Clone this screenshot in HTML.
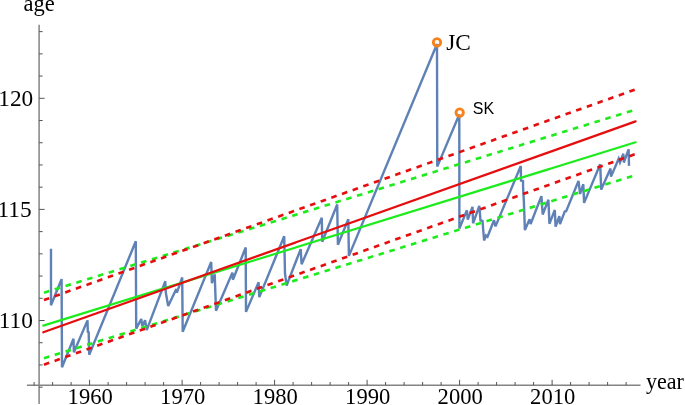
<!DOCTYPE html><html><head><meta charset="utf-8"><style>html,body{margin:0;padding:0;background:#fff;width:685px;height:405px;overflow:hidden}svg{display:block}</style></head><body>
<svg width="685" height="405" viewBox="0 0 685 405">
<defs><filter id="b" x="-5%" y="-5%" width="110%" height="110%"><feGaussianBlur stdDeviation="0.3"/></filter></defs><g filter="url(#b)">
<g stroke="#838383" stroke-width="1.5" fill="none">
<line x1="39.1" y1="24.7" x2="39.1" y2="404"/>
<line x1="27" y1="385.3" x2="640.5" y2="385.3"/>
</g>
<path d="M34.10 385.3V382.00M52.60 385.3V382.00M71.10 385.3V382.00M89.60 385.3V379.80M108.10 385.3V382.00M126.60 385.3V382.00M145.10 385.3V382.00M163.60 385.3V382.00M182.10 385.3V379.80M200.60 385.3V382.00M219.10 385.3V382.00M237.60 385.3V382.00M256.10 385.3V382.00M274.60 385.3V379.80M293.10 385.3V382.00M311.60 385.3V382.00M330.10 385.3V382.00M348.60 385.3V382.00M367.10 385.3V379.80M385.60 385.3V382.00M404.10 385.3V382.00M422.60 385.3V382.00M441.10 385.3V382.00M459.60 385.3V379.80M478.10 385.3V382.00M496.60 385.3V382.00M515.10 385.3V382.00M533.60 385.3V382.00M552.10 385.3V379.80M570.60 385.3V382.00M589.10 385.3V382.00M607.60 385.3V382.00M626.10 385.3V382.00M39.1 387.16H42.60M39.1 364.94H42.60M39.1 342.72H42.60M39.1 320.50H44.60M39.1 298.28H42.60M39.1 276.06H42.60M39.1 253.84H42.60M39.1 231.62H42.60M39.1 209.40H44.60M39.1 187.18H42.60M39.1 164.96H42.60M39.1 142.74H42.60M39.1 120.52H42.60M39.1 98.30H44.60M39.1 76.08H42.60M39.1 53.86H42.60M39.1 31.64H42.60" stroke="#555" stroke-width="1" fill="none"/>
<g font-family="Liberation Serif, serif" font-size="23.3" fill="#000">
<text transform="translate(90.20 403.6) scale(0.97 1)" text-anchor="middle">1960</text>
<text transform="translate(182.70 403.6) scale(0.97 1)" text-anchor="middle">1970</text>
<text transform="translate(275.20 403.6) scale(0.97 1)" text-anchor="middle">1980</text>
<text transform="translate(367.70 403.6) scale(0.97 1)" text-anchor="middle">1990</text>
<text transform="translate(460.20 403.6) scale(0.97 1)" text-anchor="middle">2000</text>
<text transform="translate(552.70 403.6) scale(0.97 1)" text-anchor="middle">2010</text>
<text x="32.9" y="328.00" text-anchor="end">110</text>
<text x="31.6" y="216.90" text-anchor="end">115</text>
<text x="33.2" y="105.80" text-anchor="end">120</text>
<text x="23.4" y="11.4" font-size="22.5">age</text>
<text transform="translate(646 388.8) scale(0.98 1)" font-size="22.5">year</text>
<text x="446.2" y="49.6">JC</text>
</g>
<text x="472.8" y="114" font-family="Liberation Sans, sans-serif" font-size="16">SK</text>
<polyline points="51.00,248.70 51.00,305.30 61.60,279.10 62.00,367.30 73.50,338.80 73.90,352.30 87.50,320.40 87.80,331.70 88.70,332.20 89.20,354.70 135.80,241.30 136.20,328.60 141.30,319.00 142.20,326.20 145.10,320.20 146.70,330.10 165.30,281.20 165.80,292.50 168.20,306.00 176.30,289.10 176.90,292.70 182.20,277.50 182.70,331.80 211.20,262.00 211.90,283.20 214.70,274.40 216.00,310.70 232.40,272.60 232.90,279.70 245.70,247.50 246.00,311.90 258.60,282.30 259.30,297.10 284.20,236.30 285.00,273.50 286.60,285.50 300.70,249.10 301.60,264.20 321.80,217.80 322.20,241.70 337.20,204.50 337.90,244.70 348.30,219.30 348.90,255.90 437.00,44.00 437.25,166.60 459.30,114.50 459.40,228.50 466.90,210.30 467.80,219.60 472.50,206.90 473.10,223.30 479.30,205.90 480.50,220.50 482.50,221.00 484.10,240.50 486.00,235.50 487.50,236.70 494.00,220.20 495.50,226.40 520.80,166.00 521.00,180.60 523.00,181.00 523.10,187.80 523.90,202.00 524.90,230.10 529.60,219.20 530.60,224.00 541.40,196.10 542.70,214.50 548.40,199.70 549.40,223.80 554.80,210.00 555.60,226.60 559.30,216.10 560.00,224.20 564.80,211.30 566.20,211.20 578.50,181.00 580.10,194.00 583.30,184.20 584.10,202.90 600.20,164.20 601.20,189.60 610.50,168.50 611.00,176.60 618.70,158.70 620.00,162.50 623.30,153.70 623.80,162.50 628.60,149.30 629.00,165.90" fill="none" stroke="#5E81B5" stroke-width="2.4" stroke-linejoin="miter" stroke-miterlimit="3" stroke-linecap="butt"/>
<line x1="43.3" y1="325.60" x2="635.6" y2="142.30" stroke="#1eeb1e" stroke-width="2.2" stroke-linecap="round"/>
<line x1="42.6" y1="293.12" x2="636.2" y2="109.42" stroke="#1eeb1e" stroke-width="2.65" stroke-linecap="butt" stroke-dasharray="5.6 5.7" stroke-dashoffset="-1.4"/>
<line x1="42.6" y1="358.62" x2="636.2" y2="174.92" stroke="#1eeb1e" stroke-width="2.65" stroke-linecap="butt" stroke-dasharray="5.6 5.7" stroke-dashoffset="-1.4"/>
<line x1="43.3" y1="332.30" x2="635.6" y2="121.40" stroke="#e51010" stroke-width="2.2" stroke-linecap="round"/>
<line x1="42.6" y1="300.55" x2="636.2" y2="89.19" stroke="#e51010" stroke-width="2.65" stroke-linecap="butt" stroke-dasharray="5.6 5.7" stroke-dashoffset="-1.4"/>
<line x1="42.6" y1="365.15" x2="636.2" y2="153.79" stroke="#e51010" stroke-width="2.65" stroke-linecap="butt" stroke-dasharray="5.6 5.7" stroke-dashoffset="-1.4"/>
<circle cx="437.0" cy="42.3" r="3.7" fill="none" stroke="#F7821B" stroke-width="2.9"/>
<circle cx="459.7" cy="112.6" r="3.7" fill="none" stroke="#F7821B" stroke-width="2.9"/>
</g></svg></body></html>
